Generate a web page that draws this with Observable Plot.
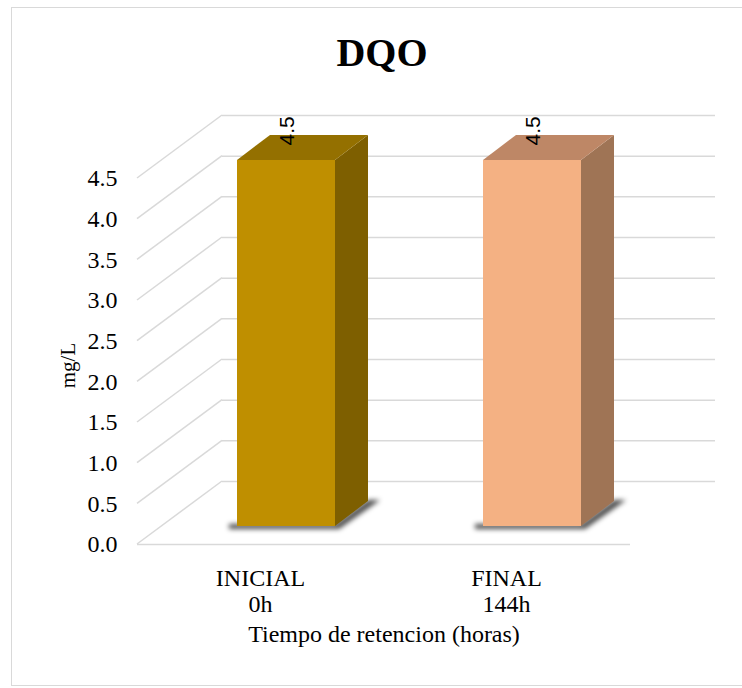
<!DOCTYPE html>
<html>
<head>
<meta charset="utf-8">
<script src="https://cdn.jsdelivr.net/npm/d3@7"></script>
<script src="https://cdn.jsdelivr.net/npm/@observablehq/plot@0.6"></script>
<style>
  body { margin: 0; background: #fff; }
  #chart { position: relative; width: 742px; height: 688px; overflow: hidden; }
  #frame { position: absolute; left: 11px; top: 7px; width: 760px; height: 679px;
           border: 1.5px solid #d9d9d9; box-sizing: border-box; }
  #chart svg { position: absolute; left: 0; top: 0; }
</style>
</head>
<body>
<div id="chart"><div id="frame"></div></div>
<script>
// DQO (mg/L) at the start and end of the retention time
const categories = ["INICIAL\n0h", "FINAL\n144h"];
const dqo = [4.5, 4.5];
const yTicks = [0, 0.5, 1, 1.5, 2, 2.5, 3, 3.5, 4, 4.5];

// face colours of each column: front, side, top
const faceFront = ["#bf8f00", "#f4b183"];
const faceSide = ["#7e5f00", "#9f7455"];
const faceTop = ["#947000", "#be8766"];

const data = categories.map((cat, i) => ({cat, value: dqo[i]}));

// pixel offsets that give the pseudo-3D perspective
const WALL = {dx: 85, dy: -63};      // floor depth: front edge -> back wall
const BAR_POS = {dx: 26, dy: -18};   // column front face sits behind the front edge
const BAR_DEPTH = {dx: 33, dy: -25}; // thickness of each column

const serif = "'Liberation Serif', 'Times New Roman', serif";

// slanted grid lines running along the left side of the floor/wall
function sideGrid(index, {y}, values, {marginLeft}) {
  const g = d3.create("svg:g").attr("stroke", "#d9d9d9").attr("stroke-width", 1.5).attr("fill", "none");
  for (const t of yTicks) {
    g.append("line")
      .attr("x1", marginLeft).attr("y1", y(t))
      .attr("x2", marginLeft + WALL.dx).attr("y2", y(t) + WALL.dy);
  }
  return g.node();
}

// soft shadow cast on the floor by each column
function columnShadows(index, {x, y}) {
  const g = d3.create("svg:g");
  g.append("defs").append("filter").attr("id", "col-shadow-blur")
    .attr("x", "-50%").attr("y", "-50%").attr("width", "200%").attr("height", "200%")
    .append("feGaussianBlur").attr("stdDeviation", 2.5);
  const bw = x.bandwidth();
  for (const d of data) {
    const x0 = x(d.cat) + BAR_POS.dx, x1 = x0 + bw;
    const yb = y(0) + BAR_POS.dy;
    g.append("path")
      .attr("d", `M${x0 - 8},${yb + 3}L${x1 + 4},${yb + 3}L${x1 + BAR_DEPTH.dx + 12},${yb + BAR_DEPTH.dy - 1}L${x1 + BAR_DEPTH.dx},${yb + BAR_DEPTH.dy - 1}L${x1},${yb - 2}L${x0 - 8},${yb - 2}Z`)
      .attr("fill", "#000").attr("fill-opacity", 0.7)
      .attr("filter", "url(#col-shadow-blur)");
  }
  return g.node();
}

// side and top faces of each column
function columnFaces(index, {x, y}) {
  const g = d3.create("svg:g");
  const bw = x.bandwidth();
  const {dx, dy} = BAR_DEPTH;
  data.forEach((d, i) => {
    const x0 = x(d.cat) + BAR_POS.dx, x1 = x0 + bw;
    const yt = y(d.value) + BAR_POS.dy, yb = y(0) + BAR_POS.dy;
    g.append("path")
      .attr("d", `M${x1},${yt}L${x1 + dx},${yt + dy}L${x1 + dx},${yb + dy}L${x1},${yb}Z`)
      .attr("fill", faceSide[i]);
    g.append("path")
      .attr("d", `M${x0},${yt}L${x0 + dx},${yt + dy}L${x1 + dx},${yt + dy}L${x1},${yt}Z`)
      .attr("fill", faceTop[i]);
  });
  return g.node();
}

const chart = Plot.plot({
  width: 742,
  height: 688,
  marginTop: 178,
  marginBottom: 144,
  marginLeft: 137,
  marginRight: 112,
  style: {background: "transparent", fontFamily: serif, color: "#000", overflow: "visible"},
  x: {domain: categories, paddingInner: 0.6, paddingOuter: 0.3, label: null},
  y: {domain: [0, 4.5], label: null},
  color: {domain: categories, range: faceFront},
  marks: [
    // back wall grid lines
    Plot.ruleY(yTicks, {dx: WALL.dx, dy: WALL.dy, stroke: "#d9d9d9", strokeWidth: 1.5}),
    sideGrid,
    // front edge of the floor
    Plot.ruleY([0], {stroke: "#d9d9d9", strokeWidth: 1.5}),
    columnShadows,
    Plot.barY(data, {x: "cat", y: "value", fill: "cat", dx: BAR_POS.dx, dy: BAR_POS.dy}),
    columnFaces,
    // value labels, written upward above each column
    Plot.text(data, {
      x: "cat", y: "value", text: d => d.value.toFixed(1),
      rotate: -90, textAnchor: "start", dx: 27, dy: -33,
      fontSize: 21, fontFamily: "'Liberation Sans', Arial, sans-serif", fill: "#000"
    }),
    Plot.axisY({ticks: yTicks, tickFormat: d3.format(".1f"), tickSize: 0, tickPadding: 20, fontSize: 24, label: null}),
    Plot.axisX({tickSize: 0, tickPadding: 23, fontSize: 24, lineHeight: 1.08, label: null}),
    Plot.text(["mg/L"], {frameAnchor: "left", textAnchor: "middle", rotate: -90, dx: -69, dy: 4, fontSize: 21, fill: "#000"}),
    Plot.text(["Tiempo de retencion (horas)"], {frameAnchor: "bottom", dy: 97, fontSize: 24, fill: "#000"}),
    Plot.text(["DQO"], {frameAnchor: "top", lineAnchor: "bottom", dy: -113, dx: -2, fontSize: 40, fontWeight: "bold", fill: "#000"})
  ]
});

document.getElementById("chart").appendChild(chart);
</script>
</body>
</html>
